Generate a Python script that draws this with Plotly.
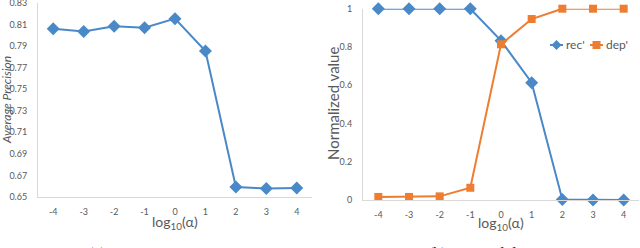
import plotly.graph_objects as go

x_vals = [-4, -3, -2, -1, 0, 1, 2, 3, 4]
x_labels = ["-4", "-3", "-2", "-1", "0", "1", "2", "3", "4"]
avg_precision = [0.806, 0.8035, 0.8085, 0.807, 0.8155, 0.7855, 0.6593, 0.6578, 0.6584]
rec = [1.0, 1.0, 1.0, 1.0, 0.833, 0.613, 0.003, 0.0, 0.0]
dep = [0.016, 0.016, 0.019, 0.064, 0.814, 0.946, 1.0, 1.0, 1.0]
left_yticks = [0.65, 0.67, 0.69, 0.71, 0.73, 0.75, 0.77, 0.79, 0.81, 0.83]
right_yticks = [0, 0.2, 0.4, 0.6, 0.8, 1]
right_ylabels = ["0", "0.2", "0.4", "0.6", "0.8", "1"]
series_names = ["rec'", "dep'"]

BLUE = "#4A89C8"
ORANGE = "#ED7D31"
GRAY = "#595959"
AXIS = "#D9D9D9"
FONT = "Lato, 'Open Sans', sans-serif"
W, H = 640, 248

def px(x):
    return x / W

def py(y):
    return 1 - y / H

fig = go.Figure()
fig.add_trace(go.Scatter(x=x_vals, y=avg_precision, mode="lines+markers",
                         line=dict(color=BLUE, width=2),
                         marker=dict(symbol="diamond", size=10, color=BLUE),
                         showlegend=False, xaxis="x", yaxis="y", cliponaxis=False))
fig.add_trace(go.Scatter(x=x_vals, y=rec, mode="lines+markers", name=series_names[0],
                         line=dict(color=BLUE, width=2),
                         marker=dict(symbol="diamond", size=10, color=BLUE),
                         showlegend=False, xaxis="x2", yaxis="y2", cliponaxis=False))
fig.add_trace(go.Scatter(x=x_vals, y=dep, mode="lines+markers", name=series_names[1],
                         line=dict(color=ORANGE, width=2),
                         marker=dict(symbol="square", size=8, color=ORANGE),
                         showlegend=False, xaxis="x2", yaxis="y2", cliponaxis=False))

xcommon = dict(range=[-4.5, 4.5], tickvals=x_vals, ticktext=x_labels, showgrid=False,
               zeroline=False, showline=True, linecolor=AXIS, linewidth=1, automargin=False,
               tickfont=dict(size=9, color=GRAY, family=FONT), ticks="", ticklabelstandoff=6,
               ticklabeloverflow="allow")

fig.update_layout(
    width=W, height=H, margin=dict(l=0, r=0, t=0, b=0),
    paper_bgcolor="white", plot_bgcolor="white",
    xaxis=dict(domain=[px(38), px(312)], anchor="y", **xcommon),
    yaxis=dict(domain=[py(197), py(3)], anchor="x", range=[0.65, 0.83], automargin=False,
               tickvals=left_yticks, ticktext=[f"{v:.2f}" for v in left_yticks],
               showgrid=False, zeroline=False, showline=True, linecolor=AXIS,
               ticklabeloverflow="allow",
               tickfont=dict(size=9, color=GRAY, family=FONT), ticks="", ticklabelstandoff=8),
    xaxis2=dict(domain=[px(363), px(639)], anchor="y2", **xcommon),
    yaxis2=dict(domain=[py(200), py(8.7)], anchor="x2", range=[0, 1], automargin=False,
                tickvals=right_yticks, ticktext=right_ylabels,
                showgrid=False, zeroline=False, showline=True, linecolor=AXIS,
                ticklabeloverflow="allow",
                tickfont=dict(size=9, color=GRAY, family=FONT), ticks="", ticklabelstandoff=8),
    showlegend=False,
)

# Legend drawn as decoration (line samples + marker glyph shapes + text)
def legend_entry(x0, color, symbol, label):
    y = 45
    fig.add_shape(type="line", xref="paper", yref="paper",
                  x0=px(x0), x1=px(x0 + 13), y0=py(y), y1=py(y),
                  line=dict(color=color, width=2))
    c = x0 + 6.5
    if symbol == "diamond":
        path = (f"M {px(c)} {py(y-5)} L {px(c+5)} {py(y)} L {px(c)} {py(y+5)} "
                f"L {px(c-5)} {py(y)} Z")
    else:
        path = (f"M {px(c-4)} {py(y-4)} L {px(c+4)} {py(y-4)} L {px(c+4)} {py(y+4)} "
                f"L {px(c-4)} {py(y+4)} Z")
    fig.add_shape(type="path", xref="paper", yref="paper", path=path,
                  fillcolor=color, line=dict(color=color, width=0))
    fig.add_annotation(text=label, xref="paper", yref="paper", x=px(x0 + 14), y=py(y),
                       xanchor="left", yanchor="middle", showarrow=False,
                       font=dict(size=12, color=GRAY, family=FONT))

legend_entry(550, BLUE, "diamond", series_names[0])
legend_entry(590, ORANGE, "square", series_names[1])

ann = [
    dict(text="Average Precision", x=px(6), y=py(100), textangle=-90,
         font=dict(size=12, color=GRAY, family=FONT, style="italic")),
    dict(text="Normalized value", x=px(333), y=py(104), textangle=-90,
         font=dict(size=15, color=GRAY, family=FONT)),
    dict(text="log<sub>10</sub>(α)", x=px(175), y=py(222),
         font=dict(size=14, color=GRAY, family=FONT)),
    dict(text="log<sub>10</sub>(α)", x=px(501), y=py(223),
         font=dict(size=14, color=GRAY, family=FONT)),
]
for a in ann:
    fig.add_annotation(xref="paper", yref="paper", showarrow=False,
                       xanchor="center", yanchor="middle", **a)

fig.add_annotation(text="(a)  Average Precision", xref="paper", yref="paper",
                   x=px(86), y=py(243), xanchor="left", yanchor="top", showarrow=False,
                   font=dict(size=16, color="#222222", family="'Liberation Serif', serif"))
fig.add_annotation(text="(b)  rec' and dep'", xref="paper", yref="paper",
                   x=px(426), y=py(243), xanchor="left", yanchor="top", showarrow=False,
                   font=dict(size=16, color="#222222", family="'Liberation Serif', serif"))

fig.write_html("out.html", config={"displayModeBar": False},
               post_script="document.body.style.margin='0px';")
